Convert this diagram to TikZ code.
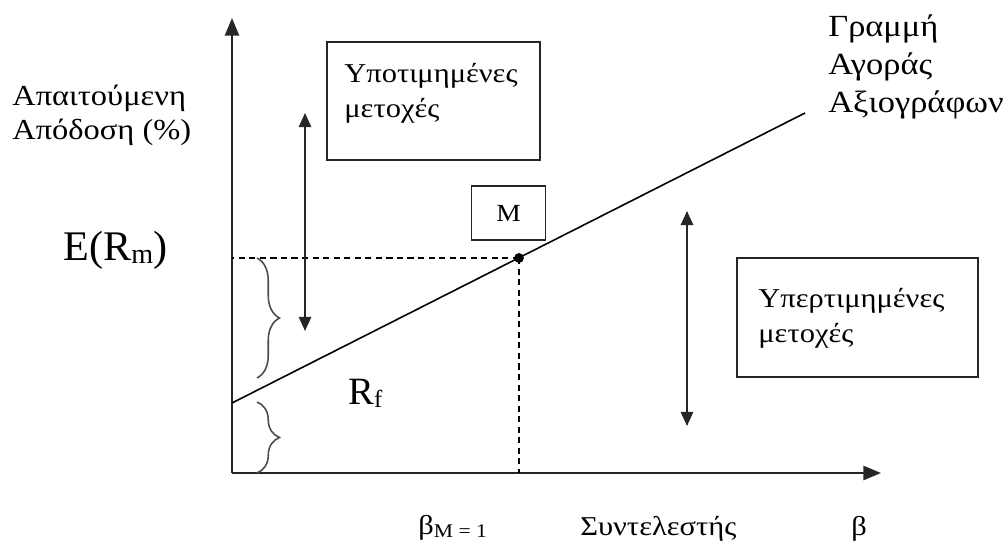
\documentclass[tikz,border=0pt]{standalone}
\usepackage{fontspec}
\setmainfont{Liberation Serif}[FakeStretch=1.12]
\newfontfamily\plainserif{Liberation Serif}
\usetikzlibrary{arrows.meta,decorations.pathreplacing}
\begin{document}
\begin{tikzpicture}[x=0.02cm,y=-0.02cm,
  axis/.style={line width=1.2pt,draw=black!85,-{Triangle[length=10pt,width=8pt]}},
  sml/.style={line width=0.9pt},
  guide/.style={line width=0.9pt,dash pattern=on 3.5pt off 2.5pt},
  movearrow/.style={line width=1.1pt,draw=black!85,{Triangle[length=8pt,width=7pt]}-{Triangle[length=8pt,width=7pt]}},
  framebox/.style={draw=black!85,line width=0.9pt,inner sep=0pt},
  lbl/.style={inner sep=0pt,font=\fontsize{15.5pt}{19.5pt}\selectfont,align=left},
  bigl/.style={inner sep=0pt,font=\plainserif\fontsize{24pt}{28pt}\selectfont},
  bracestyle/.style={decorate,decoration={brace,amplitude=0.45cm},line width=0.9pt,draw=black!70}
]
\useasboundingbox (0,0) rectangle (1005,548);
% axes
\coordinate (O) at (232,473);
\coordinate (ytop) at (232,18);
\coordinate (xend) at (881,473);
\draw[axis] (O) -- (ytop);
\draw[axis] (O) -- (xend);
% security market line
\coordinate (L0) at (232,403);
\coordinate (L1) at (805,113);
\draw[sml] (L0) -- (L1);
\coordinate (Mp) at (519,258);
\draw[guide] (Mp) -- (Mp -| O);
\draw[guide] (Mp) -- (Mp |- O);
\fill (Mp) circle (2.8pt);
% braces
\coordinate (b1t) at (257,258);
\coordinate (b1b) at (257,378);
\coordinate (b2t) at (257,402);
\coordinate (b2b) at (257,473);
\draw[bracestyle] (b1t) -- (b1b);
\draw[bracestyle] (b2t) -- (b2b);
% vertical double arrows
\coordinate (a1t) at (305,113);
\coordinate (a1b) at (305,331);
\coordinate (a2t) at (687,211);
\coordinate (a2b) at (687,426);
\draw[movearrow] (a1t) -- (a1b);
\draw[movearrow] (a2t) -- (a2b);
% boxes
\node[framebox,minimum width=4.26cm,minimum height=2.36cm] (under) at (433.5,101) {};
\node[lbl,anchor=base west] (underT) at (344,117) {Υποτιμημένες\\μετοχές};
\node[framebox,minimum width=4.82cm,minimum height=2.38cm] (over) at (857.5,317.5) {};
\node[lbl,anchor=base west] (overT) at (758,342) {Υπερτιμημένες\\μετοχές};
\node[framebox,minimum width=1.48cm,minimum height=1.08cm,font=\fontsize{14pt}{16pt}\selectfont] (Mbox) at (508.5,213) {M};
% labels
\node[lbl,anchor=base west,font=\fontsize{16.5pt}{19.3pt}\selectfont] (ylab) at (12,139) {Απαιτούμενη\\Απόδοση (\%)};
\node[lbl,anchor=base west,font=\fontsize{17.5pt}{21.5pt}\selectfont] (smlT) at (828,112) {Γραμμή\\Αγοράς\\Αξιογράφων};
\node[bigl,anchor=base west] (erm) at (63,260) {E(R\raisebox{-2pt}{\fontsize{16pt}{16pt}\selectfont m})};
\node[bigl,anchor=base west,font=\plainserif\fontsize{22pt}{26pt}\selectfont] (rf) at (348,404) {R\raisebox{-2pt}{\fontsize{14pt}{14pt}\selectfont f}};
\node[lbl,anchor=base west] (betaM) at (418,534) {β\raisebox{-2pt}{\fontsize{11pt}{11pt}\selectfont M = 1}};
\node[lbl,anchor=base west] (coef) at (580,535) {Συντελεστής};
\node[lbl,anchor=base west] (beta) at (851,535) {β};
\end{tikzpicture}
\end{document}
